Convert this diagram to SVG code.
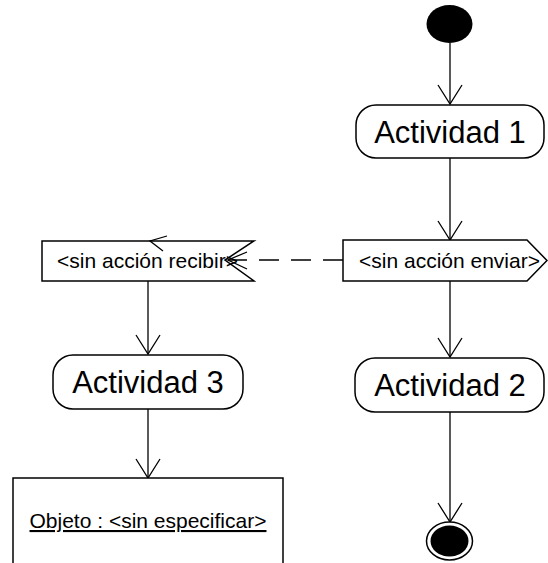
<svg xmlns="http://www.w3.org/2000/svg" width="548" height="563" viewBox="0 0 548 563">
<style>
.shape{fill:#fff;stroke:#000;stroke-width:1.5}
.edge{fill:none;stroke:#000;stroke-width:1.3}
.head{fill:none;stroke:#000;stroke-width:1.3}
.big{font-family:"Liberation Sans",Arial,sans-serif;font-size:31px;fill:#000;text-anchor:middle}
.small{font-family:"Liberation Sans",Arial,sans-serif;font-size:21px;fill:#000;text-anchor:middle}
</style>
<rect width="548" height="563" fill="#fff"/>
<g id="connectors">
  <line class="edge" x1="450" y1="43" x2="450" y2="104"/>
  <polyline class="head" points="438,85 450,104 462,85"/>
  <line class="edge" x1="450" y1="158" x2="450" y2="240"/>
  <polyline class="head" points="438,221 450,240 462,221"/>
  <line class="edge" x1="450" y1="281" x2="450" y2="357"/>
  <polyline class="head" points="438,338 450,357 462,338"/>
  <line class="edge" x1="450" y1="412" x2="450" y2="522"/>
  <polyline class="head" points="438,503 450,522 462,503"/>
  <line class="edge" x1="343" y1="260" x2="228" y2="260" stroke-dasharray="20,12"/>
  <polyline class="head" points="247,252 228,260 247,269"/>
  <line class="edge" x1="148" y1="281" x2="148" y2="354"/>
  <polyline class="head" points="136,335 148,354 160,335"/>
  <line class="edge" x1="148" y1="409" x2="148" y2="478"/>
  <polyline class="head" points="136,459 148,478 160,459"/>
</g>
<g id="start">
  <ellipse cx="449.5" cy="24" rx="23" ry="19" fill="#000"/>
</g>
<g id="actividad1">
  <rect class="shape" x="356" y="105" width="188" height="53" rx="20" ry="20"/>
  <text class="big" x="450" y="143">Actividad 1</text>
</g>
<g id="enviar">
  <polygon class="shape" points="343,240 527,240 547,260.5 527,281 343,281"/>
  <text class="small" x="449.5" y="268">&lt;sin acción enviar&gt;</text>
</g>
<g id="recibir">
  <polygon class="shape" points="42,241 254,241 225,260 254,281 42,281"/>
  <text class="small" x="147.5" y="268">&lt;sin acción recibir&gt;</text>
  <polyline class="head" points="167,236 150,241 163,251"/>
</g>
<g id="actividad2">
  <rect class="shape" x="355" y="358" width="189" height="54" rx="20" ry="20"/>
  <text class="big" x="450" y="396">Actividad 2</text>
</g>
<g id="actividad3">
  <rect class="shape" x="53" y="355" width="190" height="54" rx="20" ry="20"/>
  <text class="big" x="148" y="393">Actividad 3</text>
</g>
<g id="objeto">
  <rect class="shape" x="13" y="478" width="270" height="100"/>
  <text class="small" x="148" y="528" text-decoration="underline">Objeto : &lt;sin especificar&gt;</text>
</g>
<g id="final">
  <ellipse cx="449.5" cy="541" rx="23" ry="19" fill="#fff" stroke="#000" stroke-width="1.5"/>
  <ellipse cx="449.5" cy="541" rx="19" ry="15.5" fill="#000"/>
</g>
</svg>
